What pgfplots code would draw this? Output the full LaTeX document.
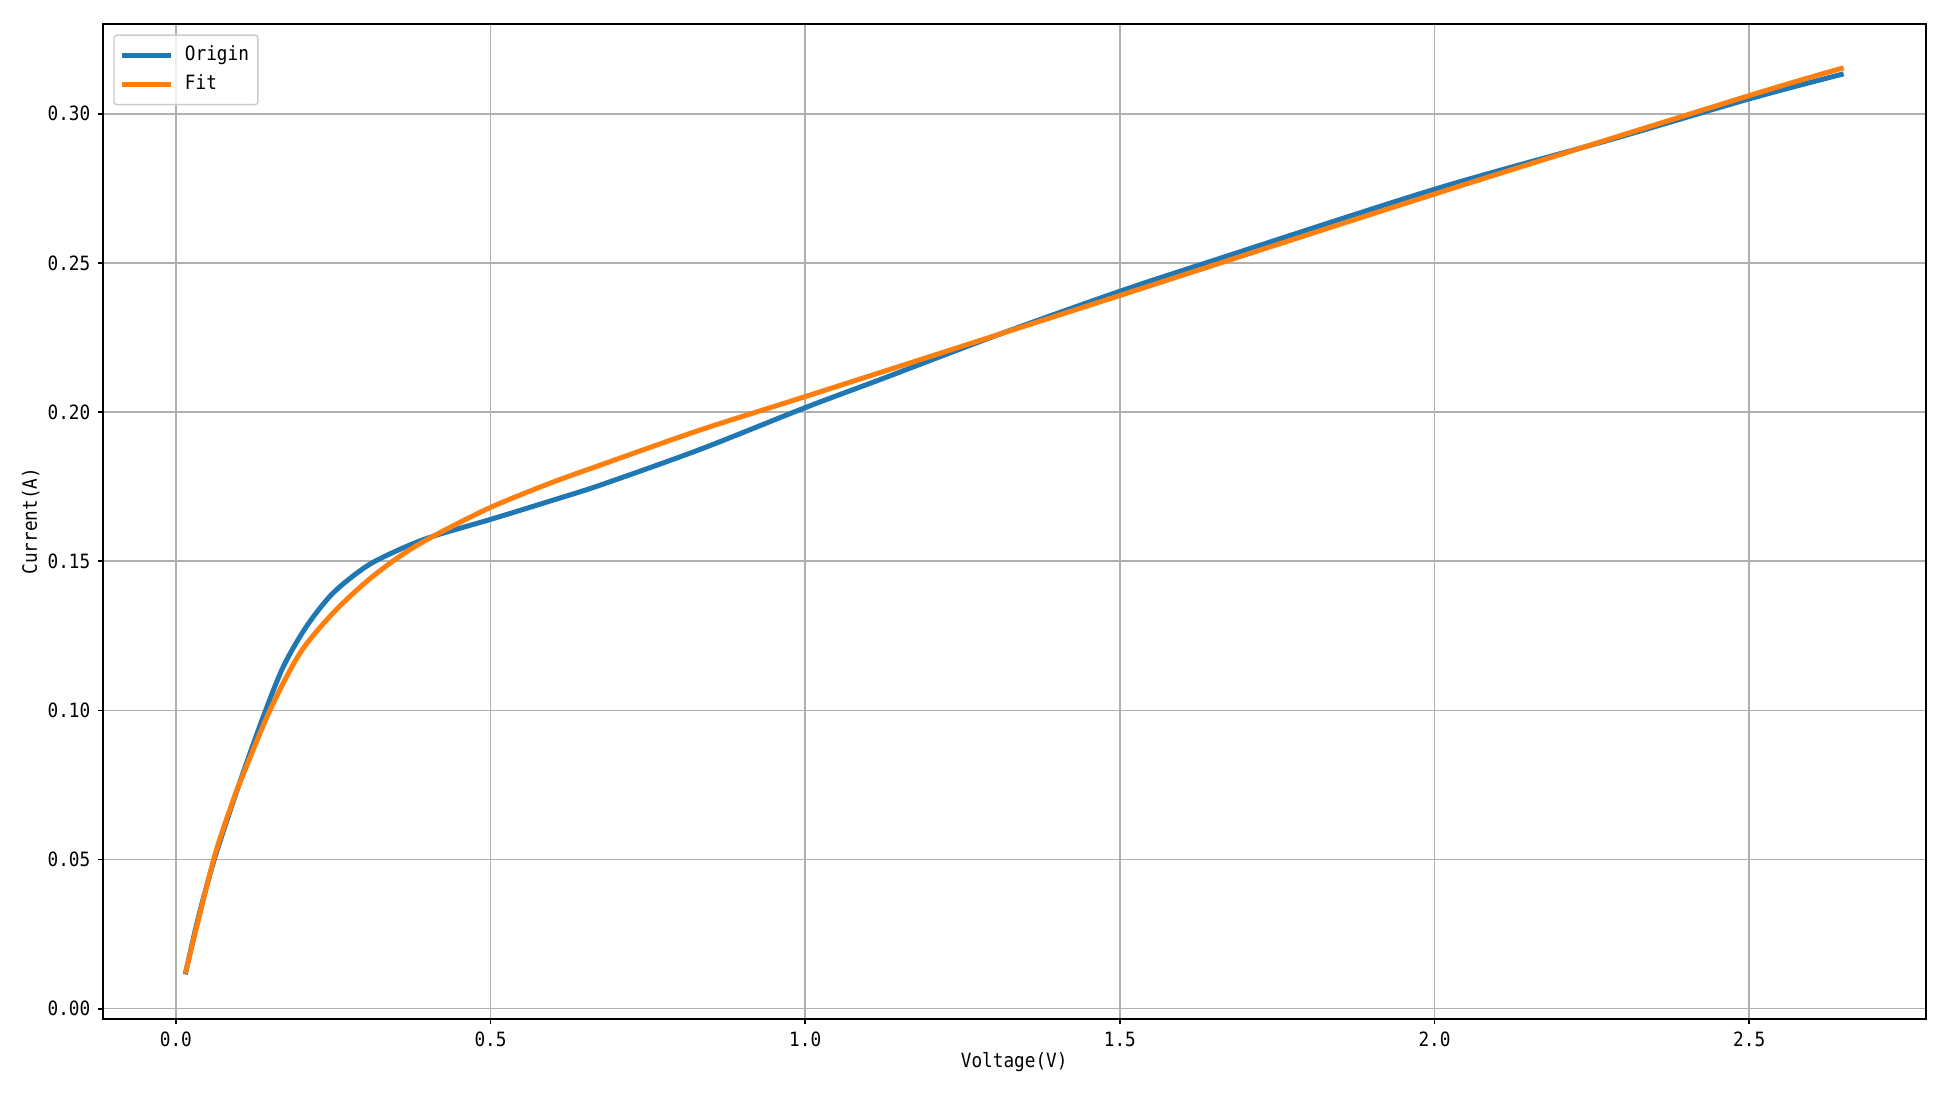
\documentclass[border=0pt]{standalone}
\usepackage{fontspec}
\setmainfont{DejaVu Sans Mono}[FakeStretch=0.9]
\usepackage{pgfplots}
\pgfplotsset{compat=1.18}
\definecolor{mplblue}{HTML}{1F77B4}
\definecolor{mplorange}{HTML}{FF7F0E}
\begin{document}
\begin{tikzpicture}[font=\fontsize{5.6pt}{6.7pt}\selectfont]
\begin{axis}[
  scale only axis,
  width=18.23cm, height=9.95cm,
  xmin=-0.1163, xmax=2.7804,
  ymin=-0.00335, ymax=0.3302,
  xtick={0,0.5,1.0,1.5,2.0,2.5},
  ytick={0,0.05,0.10,0.15,0.20,0.25,0.30},
  xticklabel style={yshift=0.04cm, /pgf/number format/.cd,fixed,fixed zerofill,precision=1,assume math mode=true},
  yticklabel style={xshift=0.05cm, /pgf/number format/.cd,fixed,fixed zerofill,precision=2,assume math mode=true},
  tick align=outside,
  xtick pos=bottom, ytick pos=left,
  major tick length=0.05cm,
  major tick style={black, line width=0.5pt},
  axis line style={black, line width=0.55pt},
  grid=major,
  major grid style={color=black!31, line width=0.45pt},
  xlabel={Voltage(V)},
  ylabel={Current(A)},
  xlabel style={at={(axis description cs:0.5,-0.0492)}, anchor=base},
  ylabel style={at={(axis description cs:-0.0395,0.5)}, anchor=center, rotate=0},
  legend cell align=left,
  legend style={at={(0.0058,0.9892)}, anchor=north west,
    draw=black!20, rounded corners=0.03cm, fill=white, fill opacity=0.8, text opacity=1,
    inner xsep=0.06cm, inner ysep=0.07cm, row sep=0.03cm,
    nodes={inner sep=0.03cm}},
  legend image code/.code={\draw[#1] (0cm,0cm) -- (0.49cm,0cm); \path (0.57cm,0cm);},
]
\addplot[mplblue, line width=1.42pt, smooth, tension=0.5] coordinates {
(0.015,0.0115) (0.035,0.030) (0.061,0.050) (0.092,0.070) (0.105,0.078)
(0.139,0.098) (0.171,0.1148) (0.208,0.1283) (0.250,0.1394) (0.3035,0.1484)
(0.356,0.1540) (0.409,0.1584) (0.4995,0.1640) (0.595,0.1702) (0.674,0.1755)
(0.833,0.1875) (1.0,0.2015) (1.124,0.2113) (1.31,0.2262) (1.5,0.2405)
(1.654,0.2512) (2.0,0.2747) (2.284,0.2916) (2.5,0.3050) (2.65,0.3134)
};
\addlegendentry{Origin}
\addplot[mplorange, line width=1.42pt, smooth, tension=0.5] coordinates {
(0.015,0.0118) (0.060,0.0500) (0.0916,0.0702) (0.105,0.0775) (0.150,0.1003)
(0.1975,0.1193) (0.250,0.1327) (0.3035,0.1433) (0.356,0.1517) (0.409,0.1584)
(0.4995,0.1680) (0.595,0.1762) (0.674,0.1822) (0.833,0.1940) (1.0,0.2052)
(1.31,0.2262) (1.5,0.2391) (2.0,0.2731) (2.5,0.3061) (2.65,0.3154)
};
\addlegendentry{Fit}
\end{axis}
\pgfresetboundingbox
\path (-1.027cm,-0.773cm) rectangle (18.473cm,10.187cm);
\end{tikzpicture}
\end{document}
